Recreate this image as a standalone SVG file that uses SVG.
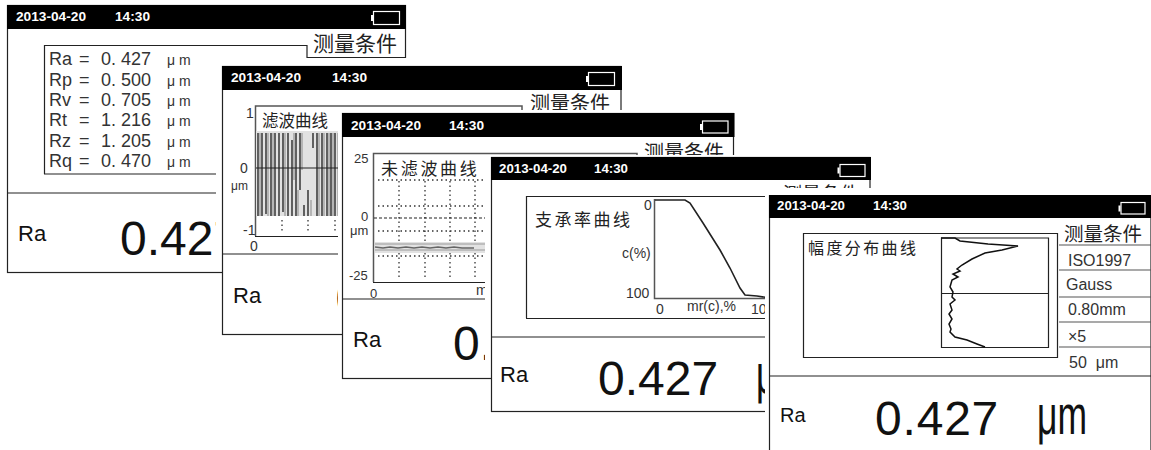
<svg xmlns="http://www.w3.org/2000/svg" width="1151" height="450" viewBox="0 0 1151 450">
<style>
text{font-family:"Liberation Sans",Arial,sans-serif;fill:#111}
.cjk{font-family:"Noto Sans CJK SC","Liberation Sans",sans-serif;fill:#222}
.hd{font-size:13.700px;font-weight:bold;fill:#fff}
.hs{font-size:13.300px;font-weight:bold;fill:#fff}
.fr{fill:#fff;stroke:#222;stroke-width:1.200}
.halo{fill:#fff;stroke:none}
.bar{fill:#000}
.ln{fill:none;stroke:#222;stroke-width:1.200}
.gy{fill:none;stroke:#555;stroke-width:1.500}
.bat{fill:none;stroke:#fff;stroke-width:1.200}
.par{font-size:18px;fill:#333}
.un{font-size:14px}
.ax{font-size:14px;fill:#333}
.as{font-size:13px;fill:#333}
.big{font-size:48px}
.ra{font-size:22px}
.d{stroke:#333;stroke-width:1.300;stroke-dasharray:1.500 3;fill:none}
.tab{font-size:16px;fill:#333}
</style>
<g id="screen1">
<rect class="fr" x="7.500" y="5.500" width="398" height="267"/>
<rect class="bar" x="7" y="5" width="399" height="24"/>
<text class="hd" x="16" y="21">2013-04-20</text><text class="hd" x="115" y="21">14:30</text>
<rect class="bat" x="373.500" y="11.500" width="26" height="13"/><rect x="371" y="15" width="2" height="6" fill="#fff"/>
<text class="cjk" x="313" y="51" font-size="21">测量条件</text>
<path class="ln" d="M44.500 174V45.500H307V57.500H406M44 174H406M7 193H406"/>
<text class="par" x="49" y="65">Ra<tspan x="79">=</tspan><tspan x="101">0. 427</tspan><tspan x="167" class="un">μ m</tspan></text>
<text class="par" x="49" y="85.500">Rp<tspan x="79">=</tspan><tspan x="101">0. 500</tspan><tspan x="167" class="un">μ m</tspan></text>
<text class="par" x="49" y="106">Rv<tspan x="79">=</tspan><tspan x="101">0. 705</tspan><tspan x="167" class="un">μ m</tspan></text>
<text class="par" x="49" y="126">Rt<tspan x="79">=</tspan><tspan x="101">1. 216</tspan><tspan x="167" class="un">μ m</tspan></text>
<text class="par" x="49" y="147">Rz<tspan x="79">=</tspan><tspan x="101">1. 205</tspan><tspan x="167" class="un">μ m</tspan></text>
<text class="par" x="49" y="167">Rq<tspan x="79">=</tspan><tspan x="101">0. 470</tspan><tspan x="167" class="un">μ m</tspan></text>
<text class="ra" x="18" y="241">Ra</text>
<text class="big" x="120" y="255">0.427</text>
</g>
<g id="screen2">
<rect class="halo" x="216" y="58" width="420" height="213"/>
<rect class="fr" x="222.500" y="66.500" width="398.500" height="268"/>
<rect class="bar" x="222" y="66" width="400" height="24"/>
<text class="hd" x="231" y="82">2013-04-20</text><text class="hd" x="332" y="82">14:30</text>
<rect class="bat" x="588.500" y="72.500" width="26" height="13"/><rect x="586" y="76" width="2" height="6" fill="#fff"/>
<text class="cjk" x="530" y="111" font-size="20">测量条件</text>
<path class="gy" d="M255.500 236V106H522V111"/>
<path class="ln" d="M255 236.500H621M222 254H621"/>
<rect x="256" y="131" width="84" height="85" fill="#e2e2e2"/>
<path stroke="#3a3a3a" stroke-width="1.700" opacity=".9" fill="none" d="M258 133V216M262 133V216M266 133V214M271 133V216M275 133V216M279 133V216M283 133V212M288 133V216M292 140V216M296 133V216M300 133V190M304 205V216M308 190V216M313 133V148M317 133V216M322 133V216M327 133V216M331 133V216M335 133V216"/>
<path stroke="#888" stroke-width="1" fill="none" d="M260 133V216M268 133V216M273 133V216M285 133V216M294 133V180M298 190V216M302 133V170M311 200V216M319 133V216M324 133V216M329 133V216M333 133V216M338 133V216"/>
<path class="ln" d="M256 168H340"/>
<path class="d" d="M282 220V233M308 220V233M335 220V233"/>
<text class="cjk" x="262" y="127" font-size="16.500">滤波曲线</text>
<text class="ax" x="246" y="118">1</text><text class="ax" x="240" y="173">0</text><text class="ax" x="231" y="190" font-size="12" style="font-size:12px">μm</text>
<text class="ax" x="243" y="235">-1</text><text class="ax" x="250" y="251">0</text>
<text class="ra" x="233" y="303">Ra</text>
<text class="big" x="335.500" y="315">0.427</text>
</g>
<g id="screen3">
<rect class="halo" x="338" y="110" width="410" height="222"/>
<rect class="fr" x="342.500" y="113.500" width="391" height="265"/>
<rect class="bar" x="342" y="113" width="392.500" height="24"/>
<text class="hd" x="351" y="130">2013-04-20</text><text class="hd" x="449" y="130">14:30</text>
<rect class="bat" x="702.500" y="121" width="25.500" height="12"/><rect x="700" y="124" width="2" height="6" fill="#fff"/>
<text class="cjk" x="644" y="160" font-size="20">测量条件</text>
<path class="gy" d="M373.500 282V153.500H637V156"/>
<path class="ln" d="M373 282.500H734M342 299H734"/>
<path class="d" d="M378 180H486M378 206H486M378 231H486M378 256H486M399 181V278M425 181V278M450 181V278M475 181V278"/>
<path stroke="#222" stroke-dasharray="3 2" stroke-width="1.200" fill="none" d="M374 218H486"/>
<rect x="375" y="242" width="111" height="11" fill="#e2e2e2"/>
<path stroke="#999" stroke-width="1.200" fill="none" d="M375 244h111M375 250h111"/>
<path stroke="#666" stroke-width="1.400" fill="none" d="M375 247l8 1 7-1 8 1 8-1 8 1 8-1 8 1 8-1 8 1 8-1 8 1 12 0"/>
<text class="cjk" x="381" y="175" font-size="17" letter-spacing="2.700">未滤波曲线</text>
<text class="as" x="354" y="163">25</text><text class="as" x="361" y="221">0</text><text class="as" x="350" y="235">μm</text>
<text class="as" x="349" y="280">-25</text><text class="as" x="370" y="298">0</text><text class="ax" x="476" y="295">m</text>
<text class="ra" x="353" y="347">Ra</text>
<text class="big" x="453" y="360">0.427</text>
</g>
<g id="screen4">
<rect class="halo" x="485" y="155" width="395" height="221"/>
<rect class="fr" x="491.500" y="157.500" width="378.500" height="254"/>
<rect class="bar" x="491" y="157" width="380" height="23"/>
<text class="hs" x="499" y="173">2013-04-20</text><text class="hs" x="594" y="173">14:30</text>
<rect class="bat" x="840" y="164.500" width="25" height="12"/><rect x="837.500" y="167.500" width="2" height="6" fill="#fff"/>
<text class="cjk" x="783" y="201" font-size="19">测量条件</text>
<path class="ln" d="M526.500 318V196.500H870M526 318.500H870M491 337H870"/>
<path class="gy" d="M654.500 199V298.500H770"/>
<path fill="none" stroke="#222" stroke-width="1.600" d="M655 200H685L690 203L703 223L720 250L730 268L740 288L745 295L757 296L770 298"/>
<text class="cjk" x="535" y="226" font-size="17" letter-spacing="2.500">支承率曲线</text>
<text class="ax" x="644" y="210">0</text><text class="ax" x="622" y="258">c(%)</text>
<text class="ax" x="626" y="298">100</text><text class="ax" x="656" y="314">0</text>
<text class="ax" x="687" y="311">mr(c),%</text><text class="ax" x="751" y="314">10</text>
<text class="ra" x="500" y="382">Ra</text>
<text class="big" x="598" y="395">0.427</text>
<text x="756" y="393" style="font-size:56px" textLength="50" lengthAdjust="spacingAndGlyphs">μm</text>
</g>
<g id="screen5">
<rect class="halo" x="765" y="188" width="386" height="262"/>
<path class="fr" d="M769.500 450V195.500H1151V450"/>
<rect class="bar" x="769" y="195" width="382" height="23"/>
<text class="hs" x="777" y="210">2013-04-20</text><text class="hs" x="873" y="210">14:30</text>
<rect class="bat" x="1121" y="202.500" width="24" height="11.500"/><rect x="1118.500" y="205.500" width="2" height="6" fill="#fff"/>
<path class="ln" d="M803.500 233.500H1057.500V357.500H803.500ZM941.500 238H1048.500V347.500H941.500ZM941.500 293.500H1048.500M769 376H1151"/>
<path class="gy" style="stroke-width:1.200" d="M1059 245H1151M1059 270H1151M1059 297H1151M1059 322H1151M1059 347H1151"/>
<path fill="none" stroke="#111" stroke-width="1.500" d="M941 238L955 238L960 241L988 244L1018 246L1002 250L985 253L972 259L962 265L957 269L960 271L953 274L958 277L952 280L950 287L953 292L952 297L955 300L950 304L952 310L949 314L952 319L949 324L951 329L950 332L955 337L967 340L977 344L985 347"/>
<text class="cjk" x="808" y="254" font-size="16" letter-spacing="2.400">幅度分布曲线</text>
<text class="cjk" x="1064" y="241" font-size="19.500">测量条件</text>
<text class="tab" x="1068" y="266">ISO1997</text>
<text class="tab" x="1066" y="290">Gauss</text>
<text class="tab" x="1068" y="315">0.80mm</text>
<text class="tab" x="1068" y="342">×5</text>
<text class="tab" x="1069" y="368" xml:space="preserve">50  μm</text>
<text x="780" y="422" style="font-size:20px">Ra</text>
<text class="big" x="875" y="435" letter-spacing=".8">0.427</text>
<text x="1037" y="434" style="font-size:56px" textLength="50" lengthAdjust="spacingAndGlyphs">μm</text>
</g>
</svg>
